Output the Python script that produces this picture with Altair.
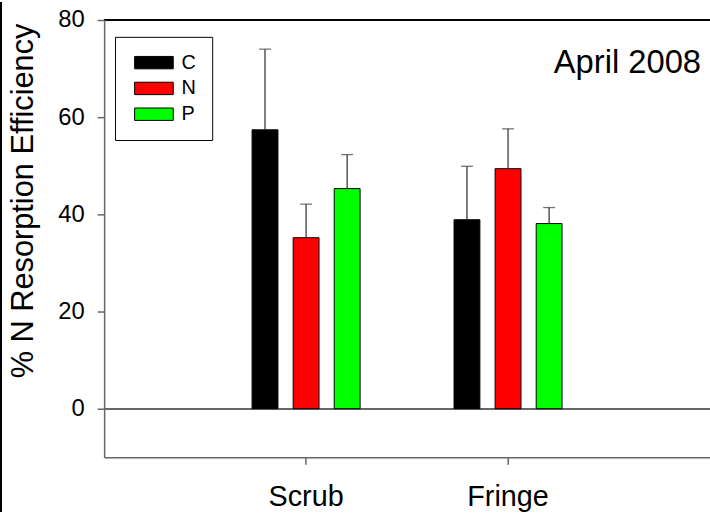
import altair as alt
import pandas as pd

sites = ["Scrub", "Fringe"]
treatments = ["C", "N", "P"]
scrub_mean = [57.4, 35.2, 45.3]
fringe_mean = [38.9, 49.4, 38.1]
scrub_se = [16.6, 6.9, 7.0]
fringe_se = [11.0, 8.2, 3.3]
bar_colors = ["#000000", "#ff0000", "#00ff00"]
y_ticks = [0, 20, 40, 60, 80]
y_title = "% N Resorption Efficiency"
annotation = "April 2008"

rows = []
for site, means, ses in [("Scrub", scrub_mean, scrub_se), ("Fringe", fringe_mean, fringe_se)]:
    for t, m, s in zip(treatments, means, ses):
        rows.append({"site": site, "treatment": t, "mean": m, "se": s})
df = pd.DataFrame(rows)

FONT = "Liberation Sans"
AX = "#666666"
W, H = 611, 441

y_scale = alt.Scale(domain=[-10, 80], nice=False, zero=False)

base = alt.Chart(df).transform_calculate(
    upper="datum.mean + datum.se"
).encode(
    x=alt.X(
        "site:N",
        scale=alt.Scale(domain=sites, paddingInner=0.4, paddingOuter=0.7),
        axis=alt.Axis(
            title=None, labelAngle=0, labelFontSize=29, labelFont=FONT,
            labelColor="black", labelPadding=19, tickSize=7, tickWidth=1.5,
            tickColor=AX, domainColor=AX, domainWidth=1.5, bandPosition=0.5,
            zindex=1,
        ),
    ),
    xOffset=alt.XOffset(
        "treatment:N",
        scale=alt.Scale(domain=treatments, paddingInner=0.37, paddingOuter=0.16),
    ),
)

y_axis = alt.Axis(
    values=y_ticks, grid=False, labelFontSize=24, labelFont=FONT,
    labelColor="black", labelPadding=13, tickSize=7, tickWidth=1.5,
    tickColor=AX, domainColor=AX, domainWidth=1.5,
    titleFontSize=31, titleFont=FONT, titleFontWeight="normal",
    titleColor="black", titleAngle=-90, titleX=-72, titleY=182,
    titleAlign="center", titleBaseline="alphabetic", zindex=1,
)

bars = base.mark_bar(stroke="black", strokeWidth=1).encode(
    y=alt.Y("mean:Q", scale=y_scale, axis=y_axis, title=y_title),
    color=alt.Color(
        "treatment:N",
        scale=alt.Scale(domain=treatments, range=bar_colors),
        legend=alt.Legend(
            title=None, orient="none", legendX=11, legendY=17, padding=16,
            strokeColor="black", fillColor="white",
            symbolType="M-1,-1L5.24,-1L5.24,1L-1,1Z", symbolSize=156,
            symbolStrokeColor="black", symbolStrokeWidth=1, symbolOpacity=1,
            labelFontSize=20, labelFont=FONT, labelColor="black",
            labelOffset=31, rowPadding=6,
        ),
    ),
)

err = base.mark_rule(color="#3a3a3a", strokeWidth=1.3).encode(
    y=alt.Y("mean:Q", scale=y_scale, title=y_title),
    y2="upper:Q",
)

caps = base.mark_tick(color="#3a3a3a", size=12, thickness=1.3).encode(
    y=alt.Y("upper:Q", scale=y_scale, title=y_title),
)

zero = alt.Chart(df).mark_rule(color=AX, strokeWidth=1.5).encode(
    y=alt.datum(0), x=alt.value(0), x2=alt.value(W)
)

top = alt.Chart(df).mark_rule(color="black", strokeWidth=1).encode(
    y=alt.value(0), x=alt.value(0), x2=alt.value(W)
)

border = alt.Chart(df).mark_rule(color="black", strokeWidth=2).encode(
    x=alt.value(-104), y=alt.value(-18), y2=alt.value(496)
)

label = alt.Chart(pd.DataFrame({"t": [annotation]})).mark_text(
    align="right", baseline="alphabetic", fontSize=33, font=FONT, color="black"
).encode(x=alt.value(602), y=alt.value(53), text="t:N")

chart = alt.layer(zero, bars, err, caps, top, label, border).properties(
    width=W, height=H,
    autosize=alt.AutoSizeParams(type="none"),
    padding={"left": 105, "top": 18, "right": 0, "bottom": 55},
    background="white",
).configure_view(stroke=None)

chart.save("out.html", embed_options={"renderer": "svg", "actions": False})
